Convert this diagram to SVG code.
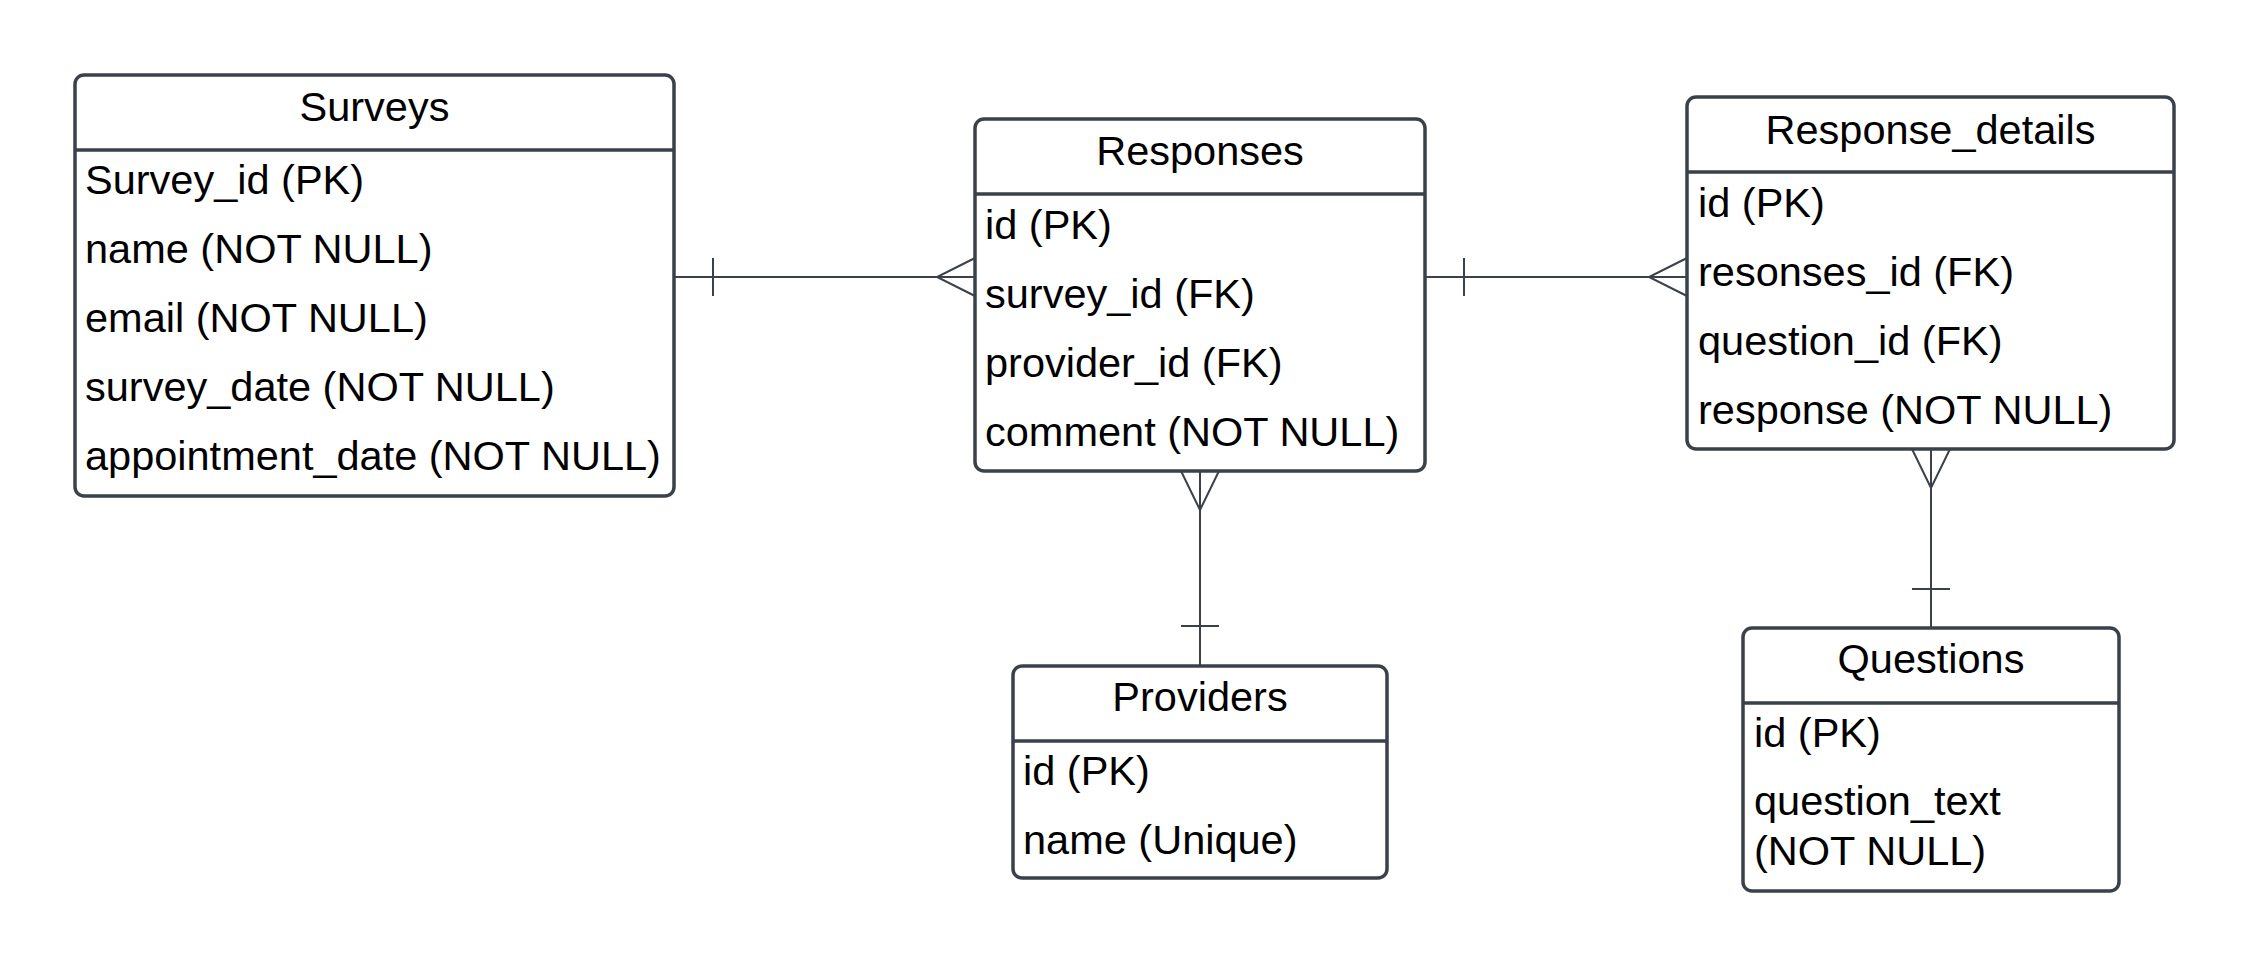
<svg xmlns="http://www.w3.org/2000/svg" width="2250" height="966" viewBox="0 0 2250 966">
<style>
.box{fill:#fff;stroke:#3a414a;stroke-width:3.5}
.div{stroke:#3a414a;stroke-width:3.5}
.t{font-family:"Liberation Sans",Arial,sans-serif;font-size:41.5px;fill:#000}
.h{text-anchor:middle}
.c{fill:none;stroke:#3a414a;stroke-width:2}
</style>
<rect width="2250" height="966" fill="#fff"/>
<g id="connectors">
  <!-- Surveys - Responses -->
  <path class="c" d="M674 277 H975 M713 258 V296 M975 258 L937 277 L975 296"/>
  <!-- Responses - Response_details -->
  <path class="c" d="M1425 277 H1687 M1464 258 V296 M1687 258 L1649 277 L1687 296"/>
  <!-- Responses - Providers -->
  <path class="c" d="M1200 471 V666 M1181 471 L1200 510 L1219 471 M1181 626 H1219"/>
  <!-- Response_details - Questions -->
  <path class="c" d="M1931 449 V628 M1912 449 L1931 488 L1950 449 M1912 589 H1950"/>
</g>
<g id="surveys">
  <rect class="box" x="75" y="75" width="599" height="421" rx="9"/>
  <line class="div" x1="75" y1="150" x2="674" y2="150"/>
  <text class="t h" x="374.5" y="121">Surveys</text>
  <text class="t" x="85" y="194">Survey_id (PK)</text>
  <text class="t" x="85" y="263">name (NOT NULL)</text>
  <text class="t" x="85" y="332">email (NOT NULL)</text>
  <text class="t" x="85" y="401">survey_date (NOT NULL)</text>
  <text class="t" x="85" y="470">appointment_date (NOT NULL)</text>
</g>
<g id="responses">
  <rect class="box" x="975" y="119" width="450" height="352" rx="9"/>
  <line class="div" x1="975" y1="194" x2="1425" y2="194"/>
  <text class="t h" x="1200" y="165">Responses</text>
  <text class="t" x="985" y="239">id (PK)</text>
  <text class="t" x="985" y="308">survey_id (FK)</text>
  <text class="t" x="985" y="377">provider_id (FK)</text>
  <text class="t" x="985" y="446">comment (NOT NULL)</text>
</g>
<g id="response_details">
  <rect class="box" x="1687" y="97" width="487" height="352" rx="9"/>
  <line class="div" x1="1687" y1="172" x2="2174" y2="172"/>
  <text class="t h" x="1930.5" y="144">Response_details</text>
  <text class="t" x="1698" y="217">id (PK)</text>
  <text class="t" x="1698" y="286">resonses_id (FK)</text>
  <text class="t" x="1698" y="355">question_id (FK)</text>
  <text class="t" x="1698" y="424">response (NOT NULL)</text>
</g>
<g id="providers">
  <rect class="box" x="1013" y="666" width="374" height="212" rx="9"/>
  <line class="div" x1="1013" y1="741" x2="1387" y2="741"/>
  <text class="t h" x="1200" y="711">Providers</text>
  <text class="t" x="1023" y="785">id (PK)</text>
  <text class="t" x="1023" y="854">name (Unique)</text>
</g>
<g id="questions">
  <rect class="box" x="1743" y="628" width="376" height="263" rx="9"/>
  <line class="div" x1="1743" y1="703" x2="2119" y2="703"/>
  <text class="t h" x="1931" y="673">Questions</text>
  <text class="t" x="1754" y="747">id (PK)</text>
  <text class="t" x="1754" y="815">question_text</text>
  <text class="t" x="1754" y="865">(NOT NULL)</text>
</g>
</svg>
